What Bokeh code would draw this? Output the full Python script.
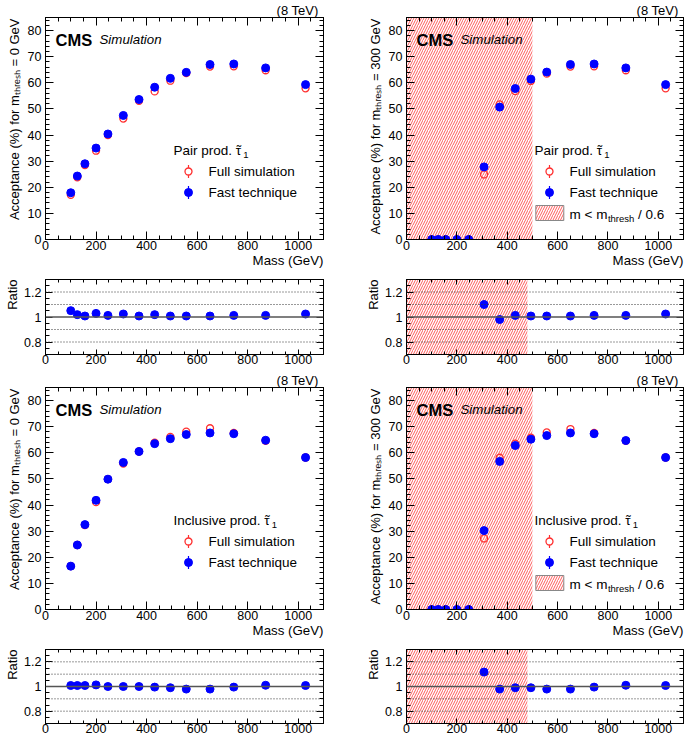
import math
from bokeh.plotting import figure
from bokeh.models import Range1d, LinearAxis, FixedTicker, Label, Span, CustomJSTickFormatter, Title
from bokeh.layouts import column, row
from bokeh.embed import file_html
from bokeh.resources import INLINE

# ---------------- data ----------------
mass = [100, 126, 156, 200, 247, 308, 370, 432, 494, 557, 651, 745, 871, 1029]

pair0_full = [17.1, 23.8, 28.5, 34.0, 40.0, 46.3, 53.1, 56.7, 60.8, 63.7, 66.2, 66.3, 64.8, 57.9]
pair0_fast = [17.9, 24.3, 29.0, 35.0, 40.4, 47.5, 53.6, 58.3, 61.7, 64.0, 67.0, 67.2, 65.7, 59.3]
pair0_ratio = [1.051, 1.019, 1.008, 1.029, 1.013, 1.024, 1.008, 1.019, 1.008, 1.008, 1.008, 1.013, 1.013, 1.024]

pair300_full = [0, 0, 0, 0, 0, 24.9, 51.7, 56.8, 60.7, 63.5, 66.2, 66.3, 64.8, 57.9]
pair300_fast = [0, 0, 0, 0, 0, 27.8, 50.7, 57.8, 61.4, 64.1, 67.0, 67.2, 65.7, 59.3]
pair300_ratio_mass = [308, 370, 432, 494, 557, 651, 745, 871, 1029]
pair300_ratio = [1.100, 0.980, 1.013, 1.008, 1.008, 1.008, 1.013, 1.013, 1.024]

incl0_full = [16.6, 24.7, 32.3, 41.1, 49.9, 55.9, 60.5, 63.9, 66.1, 68.1, 69.4, 67.6, 64.6, 58.2]
incl0_fast = [16.6, 24.7, 32.5, 41.8, 49.9, 56.3, 60.5, 63.5, 65.4, 67.0, 67.6, 67.3, 64.8, 58.2]
incl0_ratio = [1.008, 1.008, 1.008, 1.013, 1.000, 1.000, 1.000, 0.995, 0.990, 0.979, 0.979, 0.995, 1.010, 1.008]

incl300_full = [0, 0, 0, 0, 0, 27.2, 58.1, 63.5, 65.8, 67.8, 69.1, 67.6, 64.6, 58.2]
incl300_fast = [0, 0, 0, 0, 0, 30.2, 56.7, 62.8, 65.2, 66.6, 67.6, 67.3, 64.7, 58.2]
incl300_ratio_mass = [308, 370, 432, 494, 557, 651, 745, 871, 1029]
incl300_ratio = [1.117, 0.979, 0.990, 0.990, 0.979, 0.979, 0.995, 1.010, 1.008]

x_ticks = [0, 200, 400, 600, 800, 1000]
x_minor = list(range(0, 1101, 50))
y_ticks = [0, 10, 20, 30, 40, 50, 60, 70, 80]
y_minor = list(range(0, 86, 2))
r_ticks = [0.8, 1.0, 1.2]
r_minor = [0.7, 0.75, 0.8, 0.85, 0.9, 0.95, 1.0, 1.05, 1.1, 1.15, 1.2, 1.25, 1.3]
r_dotted = [0.8, 0.9, 1.1, 1.2]

XMAX = 1100
YMAX = 85
RMIN, RMAX = 0.7, 1.3
HATCH_MAIN = 500
HATCH_RATIO = 480

FONT = "Liberation Sans"
RED = "#ff3030"
BLUE = "#0000ff"
HATCH_COL = "#ff5a5a"
SUB_THRESH = "\u209c\u2095\u1d63\u2091\u209b\u2095"  # subscript "thresh"

# Arial-compatible advance widths (per 1000 em) used to place legend sub-texts
AW = {" ": 278, "(": 333, ")": 333, "%": 889, "=": 584, "<": 584, "/": 278, ".": 278,
      "A": 667, "C": 722, "G": 778, "I": 278, "M": 833, "P": 667, "R": 722, "S": 667, "V": 667,
      "a": 556, "c": 500, "d": 556, "e": 556, "f": 278, "h": 556, "i": 222, "l": 222,
      "m": 833, "n": 556, "o": 556, "p": 556, "r": 333, "s": 500, "t": 278, "u": 556, "v": 500}


def tw(s, size):
    return sum(AW.get(ch, 320) for ch in s) * size / 1000.0

# ---------------- helpers ----------------

def add_axis(p, side, ticks, minor, show, tin, min_in, standoff=2, fs="12.5px"):
    ax = LinearAxis(ticker=FixedTicker(ticks=ticks, minor_ticks=minor))
    ax.major_tick_in = tin
    ax.major_tick_out = 0
    ax.minor_tick_in = min_in
    ax.minor_tick_out = 0
    ax.axis_line_color = "black"
    ax.major_tick_line_color = "black"
    ax.minor_tick_line_color = "black"
    ax.major_label_text_font = FONT
    ax.major_label_text_color = "black"
    if show:
        ax.major_label_text_font_size = fs
        ax.major_label_standoff = standoff
        ax.formatter = CustomJSTickFormatter(code="return String(Math.round(tick*100)/100)")
    else:
        ax.major_label_text_font_size = "0px"
        ax.major_label_standoff = 0
        ax.formatter = CustomJSTickFormatter(code="return ''")
    p.add_layout(ax, side)
    return ax


def side_title(p, side, text, standoff, size, offset=0, valign="bottom"):
    # axis title aligned to the axis end (right / top), as ROOT draws it
    p.add_layout(Title(text=text, align="right", offset=offset, standoff=standoff,
                       vertical_align=valign, text_font=FONT, text_font_size=f"{size}px",
                       text_font_style="normal", text_color="black"), side)


def lab(p, text, sx, sy, size, align="left", baseline="middle", angle=0, style="normal"):
    # sx, sy in screen px relative to the frame's bottom-left corner (inside the frame)
    p.add_layout(Label(x=sx, y=sy, x_units="screen", y_units="screen", text=text, text_font=FONT,
                       text_font_size=f"{size}px", text_align=align, text_baseline=baseline,
                       angle=angle, text_font_style=style, text_color="black"))


def make_fig(width, height, bl, br, bt, bb, ymin, ymax):
    p = figure(width=width, height=height, x_range=Range1d(0, XMAX), y_range=Range1d(ymin, ymax),
               output_backend="svg", toolbar_location=None, x_axis_type=None, y_axis_type=None,
               min_border_left=bl, min_border_right=br, min_border_top=bt, min_border_bottom=bb)
    p.outline_line_color = "black"
    p.outline_line_width = 1
    p.background_fill_color = "white"
    p.border_fill_color = "white"
    return p


HATCH_KW = dict(fill_color=None, hatch_pattern="/", hatch_color=HATCH_COL, hatch_scale=5,
                hatch_weight=1.0, hatch_alpha=1.0)


def main_panel(width, height, bl, br, bt, bb, full, fast, thresh, prod, hatch):
    p = make_fig(width, height, bl, br, bt, bb, 0, YMAX)
    p.title = Title(text="(8 TeV)", align="right", offset=5, standoff=0, text_font=FONT,
                    text_font_size="13px", text_font_style="normal", text_color="black")
    FW = width - bl - br
    FH = height - bt - bb
    fx = lambda rx: rx * XMAX / FW
    fy = lambda ry: YMAX - ry * YMAX / FH
    if hatch:
        p.quad(left=[0], right=[HATCH_MAIN], bottom=[0], top=[YMAX], line_color=None, **HATCH_KW)
    add_axis(p, "below", x_ticks, x_minor, True, 8, 4, standoff=1)
    add_axis(p, "left", y_ticks, y_minor, True, 8, 4, standoff=4)
    add_axis(p, "above", x_ticks, x_minor, False, 8, 4)
    add_axis(p, "right", y_ticks, y_minor, False, 8, 4)

    side_title(p, "below", "Mass (GeV)", 1, 13.3, valign="top")
    side_title(p, "left", f"Acceptance (%) for m{SUB_THRESH} = {thresh} GeV", 5, 13, offset=1)

    p.scatter(mass, full, marker="circle", size=7, fill_color=None, line_color=RED, line_width=1.3)
    p.scatter(mass, fast, marker="circle", size=8, fill_color=BLUE, line_color=BLUE)

    lab(p, "CMS", 10, FH - 22, 16.5, baseline="alphabetic", style="bold")
    lab(p, "Simulation", 54, FH - 22, 13.3, baseline="alphabetic", style="italic")

    # legend
    LF = 13.5
    tx, ty = 128, FH - 133
    head = prod + " "
    wh = tw(head, LF)
    wt = 0.49 * LF
    lab(p, head + "\u03c4", tx, ty, LF)
    lab(p, "\u02dc", tx + wh + wt / 2, ty, LF, align="center")
    lab(p, "1", tx + wh + wt + 0.8, ty - 4.5, 9.5)
    mx = 143
    for ry, col, filled, txt in [(154, RED, False, "Full simulation"), (175, BLUE, True, "Fast technique")]:
        p.segment(x0=[fx(mx)], y0=[fy(ry - 6.5)], x1=[fx(mx)], y1=[fy(ry + 6.5)], line_color=col, line_width=1.2)
        if filled:
            p.scatter([fx(mx)], [fy(ry)], marker="circle", size=8, fill_color=col, line_color=col)
        else:
            p.scatter([fx(mx)], [fy(ry)], marker="circle", size=7, fill_color="white", line_color=col, line_width=1.3)
        lab(p, txt, 163, FH - ry, LF)
    if hatch:
        p.quad(left=[fx(129.3)], right=[fx(157.3)], top=[fy(188)], bottom=[fy(203)],
               line_color="#888888", line_width=1, **HATCH_KW)
        ly = FH - 196.5
        w1 = tw("m < m", LF)
        w2 = tw("thresh", 9.5)
        lab(p, "m < m", 163, ly, LF)
        lab(p, "thresh", 163 + w1 + 0.5, ly - 4.5, 9.5)
        lab(p, "/ 0.6", 163 + w1 + w2 + tw(" ", LF) + 0.5, ly, LF)
    return p


def ratio_panel(width, height, bl, br, bt, bb, rmass, ratio, hatch):
    p = make_fig(width, height, bl, br, bt, bb, RMIN, RMAX)
    if hatch:
        p.quad(left=[0], right=[HATCH_RATIO], bottom=[RMIN], top=[RMAX], line_color=None, **HATCH_KW)
    for v in r_dotted:
        p.add_layout(Span(location=v, dimension="width", line_color="#333333", line_width=1, line_dash="1 2"))
    p.add_layout(Span(location=1.0, dimension="width", line_color="#555555", line_width=1.3))
    add_axis(p, "below", x_ticks, x_minor, True, 5, 3, standoff=0)
    add_axis(p, "left", r_ticks, r_minor, True, 7, 4, standoff=4)
    add_axis(p, "above", x_ticks, x_minor, False, 5, 3)
    add_axis(p, "right", r_ticks, r_minor, False, 7, 4)
    side_title(p, "left", "Ratio", 3, 13, offset=0)
    p.scatter(rmass, ratio, marker="circle", size=8, fill_color=BLUE, line_color=BLUE)
    return p


# ---------------- layout ----------------
LW, RW = 343, 342
LB, LR = 45, 20
RB, RR = 63, 2

a = main_panel(LW, 270, LB, LR, 17, 31, pair0_full, pair0_fast, 0, "Pair prod.", False)
b = main_panel(RW, 270, RB, RR, 17, 31, pair300_full, pair300_fast, 300, "Pair prod.", True)
ra = ratio_panel(LW, 100, LB, LR, 9, 16, mass, pair0_ratio, False)
rb = ratio_panel(RW, 100, RB, RR, 9, 16, pair300_ratio_mass, pair300_ratio, True)
c = main_panel(LW, 270, LB, LR, 17, 31, incl0_full, incl0_fast, 0, "Inclusive prod.", False)
d = main_panel(RW, 270, RB, RR, 17, 31, incl300_full, incl300_fast, 300, "Inclusive prod.", True)
rc = ratio_panel(LW, 98, LB, LR, 9, 15, mass, incl0_ratio, False)
rd = ratio_panel(RW, 98, RB, RR, 9, 15, incl300_ratio_mass, incl300_ratio, True)

layout = column(row(a, b), row(ra, rb), row(c, d), row(rc, rd))
open("out.html", "w").write(file_html(layout, INLINE))
